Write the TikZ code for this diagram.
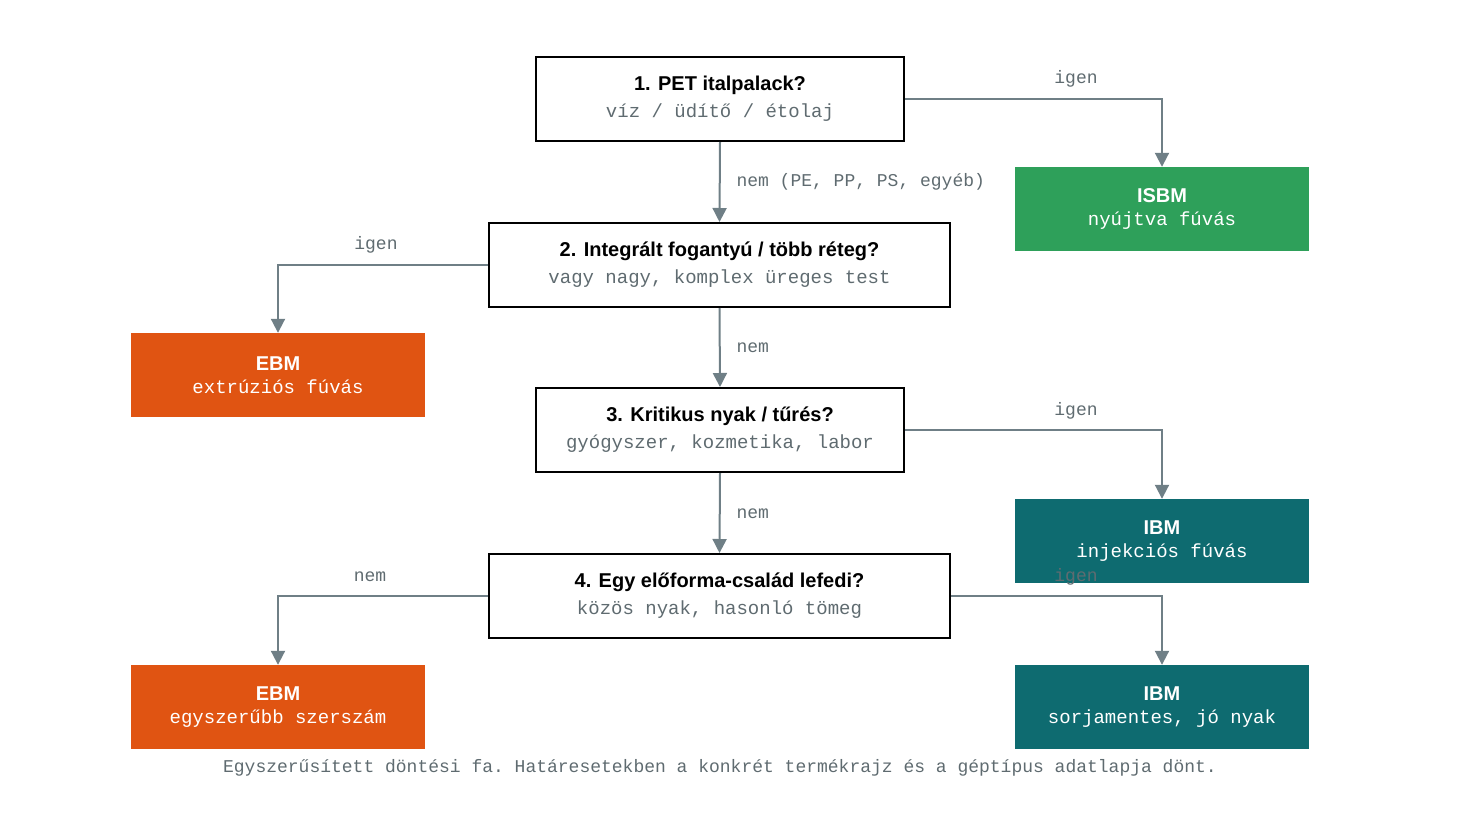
\documentclass[tikz,border=0pt]{standalone}
\usepackage{fontspec}
\setmainfont{Liberation Sans}
\setmonofont{Liberation Mono}
\usetikzlibrary{arrows.meta}
\definecolor{arr}{HTML}{6F7F86}
\definecolor{sub}{HTML}{5F6B70}
\definecolor{grn}{HTML}{2EA05A}
\definecolor{org}{HTML}{E05412}
\definecolor{teal}{HTML}{0E6B70}
\begin{document}
\begin{tikzpicture}[x=1pt,y=-1pt,
 q/.style={draw=black,line width=2pt,fill=white,minimum height=84pt,align=center,inner sep=0pt},
 r/.style={minimum width=294pt,minimum height=84pt,align=center,inner sep=0pt,text=white},
 t/.style={font=\fontsize{20}{24}\selectfont\bfseries},
 s/.style={font=\fontsize{19}{24}\ttfamily},
 a/.style={draw=arr,line width=2pt,-{Triangle[length=14pt,width=14pt]}},
 l/.style={text=sub,font=\fontsize{18}{22}\ttfamily}]
\useasboundingbox (0,0) rectangle (1460,814);
\node[q,minimum width=368pt] (q1) at (720,99) {{\fontsize{20}{24}\selectfont\bfseries 1. PET italpalack?}\\[8pt]{\color{sub}\fontsize{19}{24}\ttfamily víz / üdítő / étolaj}};
\node[q,minimum width=461pt] (q2) at (719.5,265) {{\fontsize{20}{24}\selectfont\bfseries 2. Integrált fogantyú / több réteg?}\\[8pt]{\color{sub}\fontsize{19}{24}\ttfamily vagy nagy, komplex üreges test}};
\node[q,minimum width=368pt] (q3) at (720,430) {{\fontsize{20}{24}\selectfont\bfseries 3. Kritikus nyak / tűrés?}\\[8pt]{\color{sub}\fontsize{19}{24}\ttfamily gyógyszer, kozmetika, labor}};
\node[q,minimum width=461pt] (q4) at (719.5,596) {{\fontsize{20}{24}\selectfont\bfseries 4. Egy előforma-család lefedi?}\\[8pt]{\color{sub}\fontsize{19}{24}\ttfamily közös nyak, hasonló tömeg}};
\node[r,fill=grn] (isbm) at (1162,209) {{\fontsize{20}{24}\selectfont\bfseries ISBM}\\[8pt]{\fontsize{19}{24}\ttfamily nyújtva fúvás}};
\node[r,fill=org] (ebm1) at (278,375) {{\fontsize{20}{24}\selectfont\bfseries EBM}\\[8pt]{\fontsize{19}{24}\ttfamily extrúziós fúvás}};
\node[r,fill=teal] (ibm1) at (1162,541) {{\fontsize{20}{24}\selectfont\bfseries IBM}\\[8pt]{\fontsize{19}{24}\ttfamily injekciós fúvás}};
\node[r,fill=org] (ebm2) at (278,707) {{\fontsize{20}{24}\selectfont\bfseries EBM}\\[8pt]{\fontsize{19}{24}\ttfamily egyszerűbb szerszám}};
\node[r,fill=teal] (ibm2) at (1162,707) {{\fontsize{20}{24}\selectfont\bfseries IBM}\\[8pt]{\fontsize{19}{24}\ttfamily sorjamentes, jó nyak}};
\draw[a] (q1.east) -| (isbm.north);
\draw[a] (q1.south) -- (q2.north);
\draw[a] (q2.west) -| (ebm1.north);
\draw[a] (q2.south) -- (q3.north);
\draw[a] (q3.east) -| (ibm1.north);
\draw[a] (q3.south) -- (q4.north);
\draw[a] (q4.west) -| (ebm2.north);
\draw[a] (q4.east) -| (ibm2.north);
\node[l] (l1) at (1076,79) {igen};
\node[l,anchor=west] (l2) at (733,182) {nem (PE, PP, PS, egyéb)};
\node[l] (l3) at (376,245) {igen};
\node[l,anchor=west] (l4) at (733,348) {nem};
\node[l] (l5) at (1076,411) {igen};
\node[l,anchor=west] (l6) at (733,514) {nem};
\node[l] (l7) at (370,577) {nem};
\node[l] (l8) at (1076,577) {igen};
\node[l] (cap) at (720,768) {Egyszerűsített döntési fa. Határesetekben a konkrét termékrajz és a géptípus adatlapja dönt.};
\end{tikzpicture}
\end{document}
